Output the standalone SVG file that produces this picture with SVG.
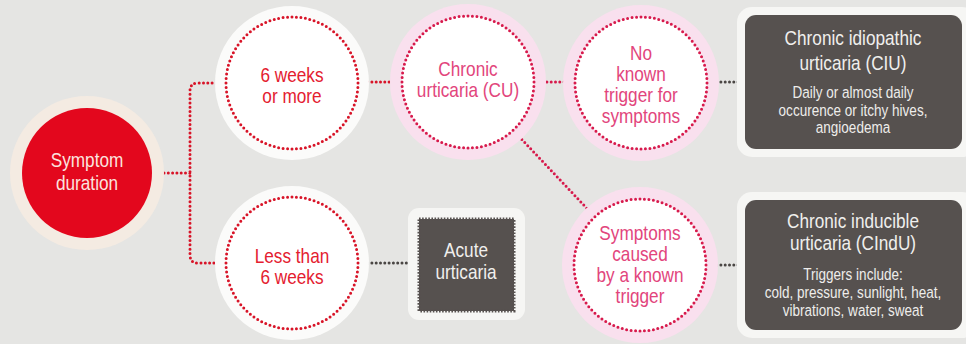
<svg xmlns="http://www.w3.org/2000/svg" width="966" height="344" viewBox="0 0 966 344">
<style>
text{font-family:"Liberation Sans",Arial,sans-serif;text-anchor:middle}
.halo-w{fill:#fbfbfa}
.halo-p{fill:#f9e0ee}
.inner{fill:#ffffff;stroke-width:3;stroke-linecap:round;stroke-dasharray:0 4.5}
.red{stroke:#d81428}
.mag{stroke:#d71a4c}
.t-red{fill:#e4202f;font-size:21px}
.t-pink{fill:#e2457c;font-size:21px}
.box-halo{fill:#f6f6f4}
.box{fill:#56514f}
.t-box{fill:#f0efed;font-size:21px}
.t-sub{fill:#eeedeb;font-size:16.5px}
.dot{fill:none;stroke-width:3;stroke-linecap:round;stroke-dasharray:0 4.3}
.dot-r{stroke:#d81428}
.dot-m{stroke:#d71a4c}
.dot-g{stroke:#4a4644}
</style>
<rect width="966" height="344" fill="#e5e5e3"/>

<g id="connectors">
<path class="dot dot-r" d="M164 173 H190 M225 83 H198 Q190 83 190 91 V255 Q190 263 198 263 H225"/>
<path class="dot dot-r" d="M359 82 H402"/>
<path class="dot dot-m" d="M534 82 H574"/>
<path class="dot dot-m" d="M513 130 L595 217"/>
<path class="dot dot-g" d="M708 82 H744"/>
<path class="dot dot-g" d="M359 263 H416"/>
<path class="dot dot-g" d="M708 265 H744"/>
</g>

<g id="symptom-duration">
<circle cx="87" cy="173" r="77" fill="#f4ebe2"/>
<circle cx="87" cy="173" r="65" fill="#e3071d"/>
<g transform="translate(87 0) scale(0.82 1)">
<text x="0" y="167" fill="#fbe3df" font-size="21">Symptom</text>
<text x="0" y="190" fill="#fbe3df" font-size="21">duration</text>
</g>
</g>

<g id="six-weeks-or-more">
<circle class="halo-w" cx="292" cy="83" r="77"/>
<circle class="inner red" cx="292" cy="83" r="66"/>
<g transform="translate(292 0) scale(0.82 1)">
<text class="t-red" x="0" y="82">6 weeks</text>
<text class="t-red" x="0" y="103">or more</text>
</g>
</g>

<g id="less-than-six-weeks">
<circle class="halo-w" cx="292" cy="263" r="77"/>
<circle class="inner red" cx="292" cy="263" r="66"/>
<g transform="translate(292 0) scale(0.82 1)">
<text class="t-red" x="0" y="263">Less than</text>
<text class="t-red" x="0" y="284">6 weeks</text>
</g>
</g>

<g id="chronic-urticaria">
<circle class="halo-p" cx="468" cy="82" r="78"/>
<circle class="inner mag" cx="468" cy="82" r="66"/>
<g transform="translate(468 0) scale(0.82 1)">
<text class="t-pink" x="0" y="76">Chronic</text>
<text class="t-pink" x="0" y="97">urticaria (CU)</text>
</g>
</g>

<g id="no-known-trigger">
<circle class="halo-p" cx="641" cy="83" r="78"/>
<circle class="inner mag" cx="641" cy="83" r="66"/>
<g transform="translate(641 0) scale(0.82 1)">
<text class="t-pink" x="0" y="60">No</text>
<text class="t-pink" x="0" y="81">known</text>
<text class="t-pink" x="0" y="102">trigger for</text>
<text class="t-pink" x="0" y="123">symptoms</text>
</g>
</g>

<g id="known-trigger">
<circle class="halo-p" cx="640" cy="265" r="78"/>
<circle class="inner mag" cx="640" cy="265" r="66"/>
<g transform="translate(640 0) scale(0.82 1)">
<text class="t-pink" x="0" y="240">Symptoms</text>
<text class="t-pink" x="0" y="261">caused</text>
<text class="t-pink" x="0" y="282">by a known</text>
<text class="t-pink" x="0" y="303">trigger</text>
</g>
</g>

<g id="acute-urticaria">
<rect class="box-halo" x="408" y="208" width="117" height="112" rx="11"/>
<rect class="box" x="419" y="219" width="95" height="92" stroke="#56514f" stroke-width="3" stroke-dasharray="1.6 1.5"/>
<g transform="translate(466 0) scale(0.82 1)">
<text class="t-box" x="0" y="257">Acute</text>
<text class="t-box" x="0" y="279">urticaria</text>
</g>
</g>

<g id="ciu">
<rect class="box-halo" x="737" y="7" width="240" height="150" rx="15"/>
<rect class="box" x="745" y="15" width="217" height="134" rx="11"/>
<g transform="translate(853 0) scale(0.82 1)">
<text class="t-box" x="0" y="45">Chronic idiopathic</text>
<text class="t-box" x="0" y="70">urticaria (CIU)</text>
<text class="t-sub" x="0" y="98">Daily or almost daily</text>
<text class="t-sub" x="0" y="116">occurence or itchy hives,</text>
<text class="t-sub" x="0" y="133">angioedema</text>
</g>
</g>

<g id="cindu">
<rect class="box-halo" x="737" y="192" width="240" height="146" rx="15"/>
<rect class="box" x="745" y="200" width="217" height="130" rx="11"/>
<g transform="translate(853 0) scale(0.82 1)">
<text class="t-box" x="0" y="228">Chronic inducible</text>
<text class="t-box" x="0" y="250">urticaria (CIndU)</text>
<text class="t-sub" x="0" y="280">Triggers include:</text>
<text class="t-sub" x="0" y="298">cold, pressure, sunlight, heat,</text>
<text class="t-sub" x="0" y="316">vibrations, water, sweat</text>
</g>
</g>
</svg>
